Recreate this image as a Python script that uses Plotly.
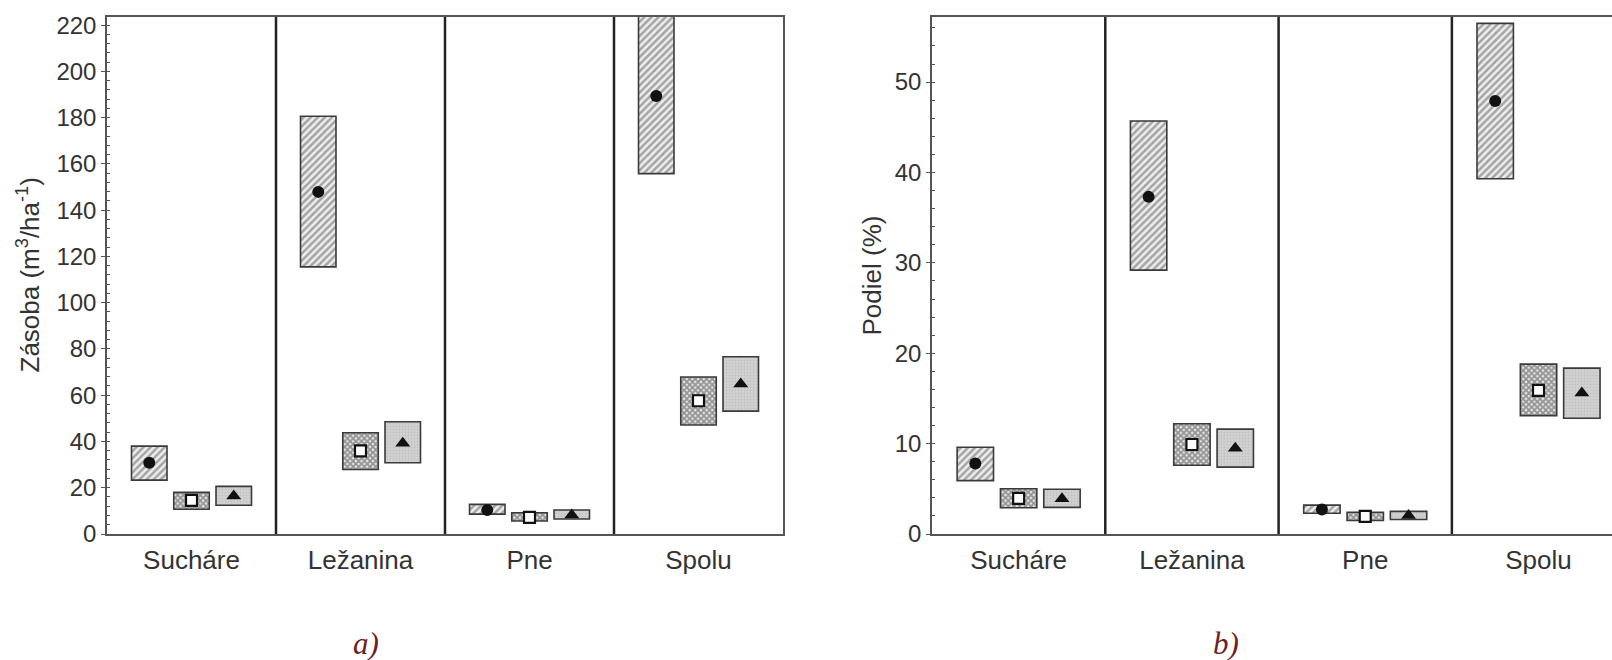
import plotly.graph_objects as go

# Categories and mean / confidence-interval values for the two panels
categories = ["Sucháre", "Ležanina", "Pne", "Spolu"]

# a) Zásoba (m3/ha) — lower bound, mean, upper bound for each of the three groups
zasoba_g1_low = [23.3, 115.5, 8.6, 155.8]
zasoba_g1_mean = [30.8, 147.9, 10.4, 189.3]
zasoba_g1_high = [38.0, 180.6, 12.8, 225.0]

zasoba_g2_low = [10.7, 27.9, 5.6, 47.1]
zasoba_g2_mean = [14.5, 35.9, 7.2, 57.6]
zasoba_g2_high = [18.0, 43.8, 9.2, 67.9]

zasoba_g3_low = [12.4, 30.8, 6.5, 53.1]
zasoba_g3_mean = [16.4, 39.2, 8.2, 64.8]
zasoba_g3_high = [20.6, 48.5, 10.4, 76.6]

# b) Podiel (%)
podiel_g1_low = [5.9, 29.2, 2.3, 39.3]
podiel_g1_mean = [7.8, 37.3, 2.7, 47.9]
podiel_g1_high = [9.6, 45.7, 3.2, 56.5]

podiel_g2_low = [2.9, 7.6, 1.5, 13.1]
podiel_g2_mean = [3.95, 9.9, 1.95, 15.9]
podiel_g2_high = [5.0, 12.2, 2.4, 18.8]

podiel_g3_low = [2.95, 7.4, 1.6, 12.8]
podiel_g3_mean = [3.9, 9.5, 2.05, 15.6]
podiel_g3_high = [4.95, 11.6, 2.5, 18.35]

zasoba_ticks = list(range(0, 221, 20))
podiel_ticks = list(range(0, 51, 10))

# Visual styling of the three groups (box fill pattern + mean marker)
OFFSETS = [-0.25, 0.0, 0.25]
BOX_W = 0.21
EDGE = "#3a3a3a"
AXIS = "#555555"
TEXT = "#333333"

group_styles = [
    dict(bg="#eeeeee", pattern=dict(shape="/", fgcolor="#5a5a5a", bgcolor="#eeeeee", size=5, solidity=0.5),
         symbol="circle", mcolor="#111111", mline="#111111", msize=12),
    dict(bg="#e8e8e8", pattern=dict(shape="x", fgcolor="#3e3e3e", bgcolor="#e8e8e8", size=4, solidity=0.7),
         symbol="square", mcolor="#ffffff", mline="#111111", msize=11),
    dict(bg="#d0d0d0", pattern=dict(shape=".", fgcolor="#b0b0b0", bgcolor="#d2d2d2", size=3, solidity=0.3),
         symbol="triangle-up", mcolor="#111111", mline="#111111", msize=13),
]

panels = [
    dict(xa="x", ya="y",
         groups=[(zasoba_g1_low, zasoba_g1_mean, zasoba_g1_high),
                 (zasoba_g2_low, zasoba_g2_mean, zasoba_g2_high),
                 (zasoba_g3_low, zasoba_g3_mean, zasoba_g3_high)]),
    dict(xa="x2", ya="y2",
         groups=[(podiel_g1_low, podiel_g1_mean, podiel_g1_high),
                 (podiel_g2_low, podiel_g2_mean, podiel_g2_high),
                 (podiel_g3_low, podiel_g3_mean, podiel_g3_high)]),
]

fig = go.Figure()

for panel in panels:
    for gi, (low, mean, high) in enumerate(panel["groups"]):
        st = group_styles[gi]
        xs = [i + OFFSETS[gi] for i in range(len(categories))]
        fig.add_trace(go.Bar(
            x=xs, y=[h - l for l, h in zip(low, high)], base=low, width=BOX_W,
            marker=dict(color=st["bg"], pattern=st["pattern"], line=dict(color=EDGE, width=1.6)),
            xaxis=panel["xa"], yaxis=panel["ya"], showlegend=False, hoverinfo="skip",
        ))
        fig.add_trace(go.Scatter(
            x=xs, y=mean, mode="markers",
            marker=dict(symbol=st["symbol"], color=st["mcolor"], size=st["msize"],
                        line=dict(color=st["mline"], width=2.2 if st["symbol"] == "square" else 0)),
            xaxis=panel["xa"], yaxis=panel["ya"], showlegend=False, cliponaxis=True,
        ))

    # vertical separators between the category panels
    for sep in [0.5, 1.5, 2.5]:
        fig.add_shape(type="line", xref=panel["xa"], yref=panel["ya"] + " domain",
                      x0=sep, x1=sep, y0=0, y1=1, line=dict(color="#222222", width=2.5), layer="above")

tickfont = dict(family="Liberation Sans, Arial, sans-serif", size=24, color=TEXT)
catfont = dict(family="Liberation Sans, Arial, sans-serif", size=26, color=TEXT)

xcommon = dict(tickvals=[0, 1, 2, 3], ticktext=categories, ticks="", showgrid=False, zeroline=False,
               showline=True, linecolor=AXIS, linewidth=1.5, mirror=True, tickfont=catfont,
               ticklabelstandoff=2)
ycommon = dict(showgrid=False, zeroline=False, showline=True, linecolor=AXIS, linewidth=1.5,
               ticks="outside", ticklen=4, tickcolor=AXIS, tickfont=tickfont)

fig.update_layout(
    width=1612, height=660,
    margin=dict(l=0, r=0, t=17, b=126),
    plot_bgcolor="white", paper_bgcolor="white",
    barmode="overlay",
    xaxis=dict(domain=[107 / 1612, 783 / 1612], range=[-0.5, 3.5], **xcommon),
    yaxis=dict(range=[0, 223.5], tickvals=zasoba_ticks, mirror=True,
               minor=dict(dtick=4, ticks="inside", ticklen=3, tickcolor=AXIS, showgrid=False),
               **ycommon),
    xaxis2=dict(domain=[932 / 1612, 1.0], range=[-0.5, 3.424], anchor="y2", **xcommon),
    yaxis2=dict(range=[0, 57.2], tickvals=podiel_ticks, anchor="x2", mirror=False,
                minor=dict(dtick=2, ticks="inside", ticklen=3, tickcolor=AXIS, showgrid=False),
                **ycommon),
)

# axis titles and panel letters
title_font = dict(family="Liberation Sans, Arial, sans-serif", size=26, color=TEXT)
fig.add_annotation(x=29 / 1612, y=0.5, xref="paper", yref="y domain", xanchor="center", yanchor="middle",
                   text="Zásoba (m<sup>3</sup>/ha<sup>-1</sup>)", textangle=-90, showarrow=False,
                   font=title_font)
fig.add_annotation(x=871 / 1612, y=0.5, xref="paper", yref="y2 domain", xanchor="center", yanchor="middle",
                   text="Podiel (%)", textangle=-90, showarrow=False, font=title_font)

# panel letters sit below the plotting area (paper y < 0)
letter_y = (534 - 643) / 517
letter_font = dict(family="Liberation Serif, Times New Roman, serif", size=31, color="#6b2226")
fig.add_annotation(x=366 / 1612, y=letter_y, xref="paper", yref="paper", text="<i>a)</i>",
                   xanchor="center", yanchor="middle", showarrow=False, font=letter_font)
fig.add_annotation(x=1226 / 1612, y=letter_y, xref="paper", yref="paper", text="<i>b)</i>",
                   xanchor="center", yanchor="middle", showarrow=False, font=letter_font)

fig.write_html("out.html")
